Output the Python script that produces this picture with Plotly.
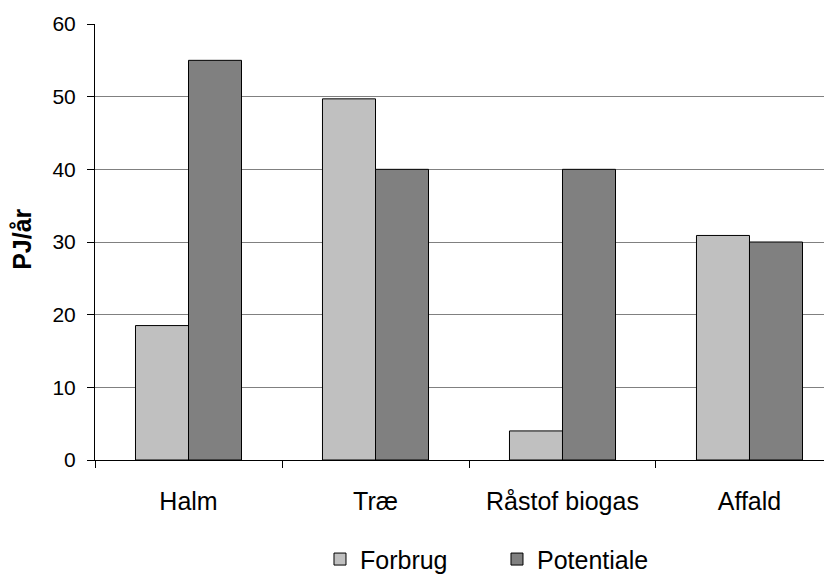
import plotly.graph_objects as go

categories = ["Halm", "Træ", "Råstof biogas", "Affald"]
forbrug = [18.5, 49.7, 4.0, 30.9]
potentiale = [55.0, 40.0, 40.0, 30.0]
y_ticks = [0, 10, 20, 30, 40, 50, 60]

FONT = "Liberation Sans, Arial, sans-serif"

fig = go.Figure()
fig.add_trace(go.Bar(name="Forbrug", x=categories, y=forbrug,
                     marker=dict(color="#C0C0C0", line=dict(color="#000000", width=1))))
fig.add_trace(go.Bar(name="Potentiale", x=categories, y=potentiale,
                     marker=dict(color="#808080", line=dict(color="#000000", width=1))))

fig.update_layout(
    width=832, height=574,
    margin=dict(l=87, r=0, t=16, b=122, autoexpand=False),
    paper_bgcolor="white", plot_bgcolor="white",
    barmode="group", bargap=0.433, bargroupgap=0,
    font=dict(family=FONT, color="#000000"),
    showlegend=True,
    legend=dict(orientation="h", x=0.302, xanchor="left", y=-0.175, yanchor="top",
                font=dict(size=25, family=FONT), entrywidth=132, entrywidthmode="pixels",
                bgcolor="rgba(0,0,0,0)"),
    xaxis=dict(type="category", range=[-0.5, 3.484], tickson="boundaries",
               ticks="outside", ticklen=7, tickcolor="#000000", automargin=False,
               showline=True, linecolor="#000000", linewidth=1,
               showgrid=False, tickfont=dict(size=25), ticklabelstandoff=19),
    yaxis=dict(range=[0, 60], tickvals=y_ticks, ticks="outside", ticklen=7,
               tickcolor="#000000", showline=True, linecolor="#000000", linewidth=1,
               showgrid=True, gridcolor="#808080", gridwidth=1, zeroline=False,
               automargin=False, tickfont=dict(size=21), ticklabelstandoff=7),
    annotations=[dict(text="<b>PJ/år</b>", xref="paper", yref="paper",
                      x=(14 - 87) / 745, y=0.505, xanchor="center", yanchor="middle",
                      textangle=-90, showarrow=False, font=dict(size=25, family=FONT))],
)

fig.write_html("out.html")
